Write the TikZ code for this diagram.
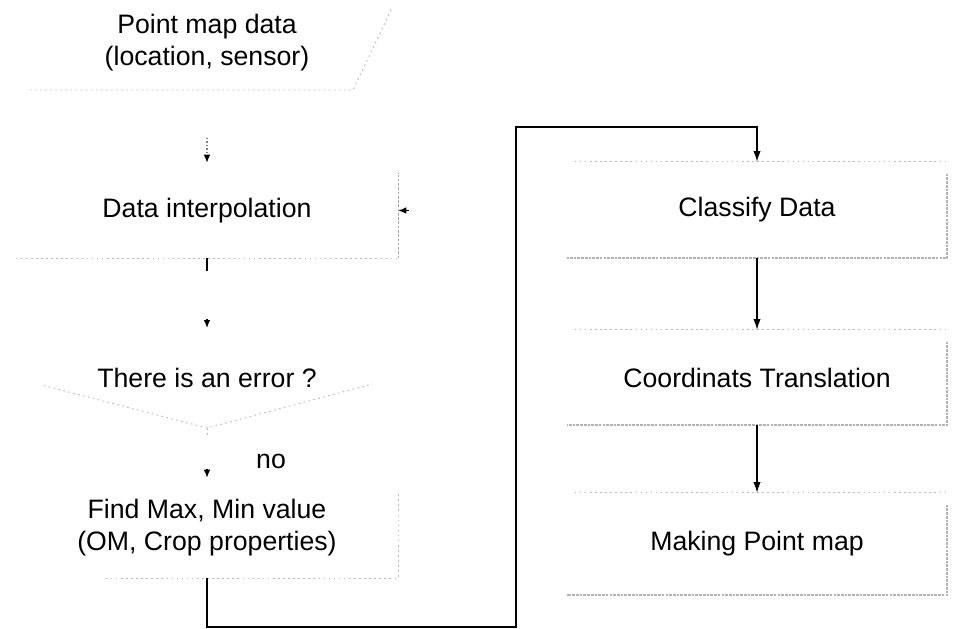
\documentclass[tikz,border=0pt]{standalone}
\usepackage{fontspec}
\setmainfont{Liberation Sans}
\usetikzlibrary{arrows.meta,calc}

\begin{document}
\begin{tikzpicture}[x=0.75pt,y=-0.75pt,
  font=\fontsize{20}{24}\selectfont,
  box/.style={rectangle, draw=none, align=center, inner sep=0pt},
  conn/.style={draw=black, line width=1pt},
  arr/.style={conn, -{Latex[length=8pt,width=5.5pt,color=black]}},
  tip/.style={conn, -{Latex[length=6pt,width=5pt,color=black]}},
  faint/.style={draw=gray!55, line width=0.7pt, dash pattern=on 1.2pt off 2.6pt},
  faintdark/.style={draw=gray!70, line width=0.8pt, dash pattern=on 2pt off 1.2pt},
  shade/.style={draw=gray!60, line width=1.5pt, dash pattern=on 2pt off 0.8pt},
]
\useasboundingbox (0,0) rectangle (955,628);

% ---- left column ----
\node[box] (pmd) at (207,43) {Point map data\\(location, sensor)};
\draw[faint] (30,90) -- (353,90) -- (392,8);
\coordinate (pmdtail) at (207,138);

\node[box, minimum width=286.5pt, minimum height=71.25pt] (interp) at (207,210.5) {\raisebox{-2pt}{Data interpolation}};
\draw[faint] (interp.south west) -- (interp.south east);
\draw[faintdark] (interp.south east) -- ($(interp.north east)+(0,10)$);

\node[box] (err) at (207,378) {There is an error ?};
\coordinate (errtop) at (207,328);
\coordinate (errleft) at (15,378);
\coordinate (errright) at (395,378);
\coordinate (errbot) at (207,428);
\draw[faint] ($(errleft)!0.15!(errbot)$) -- (errbot) -- ($(errright)!0.12!(errbot)$);

\node[box] (no) at (271,461) {no};

\node[box, minimum width=286.5pt, minimum height=75pt] (fmm) at (207,528) {Find Max, Min value\\(OM, Crop properties)};
\draw[faint] ($(fmm.south west)+(90,0)$) -- (fmm.south east) -- ($(fmm.north east)+(0,16)$);

% ---- right column ----
\node[box, minimum width=285pt, minimum height=72pt] (classify) at (757,210) {Classify Data};
\node[box, minimum width=285pt, minimum height=71.25pt] (coord) at (757,377.5) {Coordinats Translation};
\node[box, minimum width=285pt, minimum height=76.5pt] (make) at (757,544) {Making Point map};

\foreach \b in {classify,coord,make}{
  \draw[faint] ($(\b.north west)+(8,0)$) -- (\b.north east);
  \draw[shade] ($(\b.north east)+(0,12)$) -- (\b.south east) -- (\b.south west);
}

% ---- connectors ----
\draw[tip, draw=gray, dash pattern=on 1pt off 1.6pt] (pmdtail) -- (interp.north);
\draw[tip] ($(interp.east)+(11,0)$) -- (interp.east);
\draw[conn] (interp.south) -- ++(0,13);
\draw[tip] ($(errtop)+(0,-9)$) -- (errtop);
\draw[faint] (errbot) -- ++(0,8);
\draw[tip] ($(fmm.north)+(0,-9)$) -- (fmm.north);

\coordinate (low) at (516,627);
\coordinate (high) at (516,127);
\draw[arr] (fmm.south) |- (low) -- (high) -| (classify.north);

\draw[arr] (classify) -- (coord);
\draw[arr] (coord) -- (make);
\end{tikzpicture}
\end{document}
